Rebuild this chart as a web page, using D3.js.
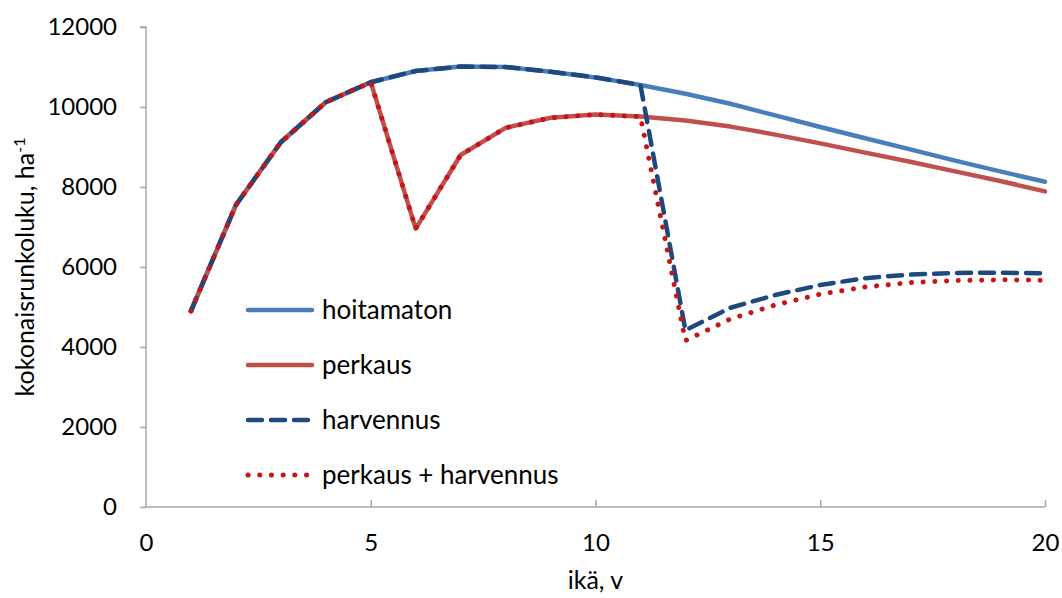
<!DOCTYPE html>
<html>
<head>
<meta charset="utf-8">
<script src="https://cdn.jsdelivr.net/npm/d3@7"></script>
<style>
  body { margin: 0; background: #fff; }
  svg { display: block; }
  text { font-family: Lato, "Open Sans", sans-serif; fill: #000; }
</style>
</head>
<body>
<svg id="chart" width="1062" height="598"></svg>
<script>
const ages = [1,2,3,4,5,6,7,8,9,10,11,12,13,14,15,16,17,18,19,20];
const hoitamaton = [4900,7550,9120,10120,10620,10900,11010,11000,10880,10740,10550,10330,10080,9790,9500,9220,8940,8660,8390,8130];
const perkaus = [4900,7550,9120,10120,10620,6960,8800,9480,9730,9810,9760,9660,9510,9310,9090,8860,8630,8390,8150,7890];
const harvennus = [4900,7550,9120,10120,10620,10900,11010,11000,10880,10740,10550,4420,4980,5300,5550,5720,5810,5850,5860,5840];
const perkausHarvennus = [4900,7550,9120,10120,10620,6960,8800,9480,9730,9810,9760,4160,4700,5050,5320,5500,5610,5660,5680,5670];
const seriesNames = ["hoitamaton","perkaus","harvennus","perkaus + harvennus"];
const xTicks = [0,5,10,15,20];
const yTicks = [0,2000,4000,6000,8000,10000,12000];

const svg = d3.select("#chart");
const x = d3.scaleLinear().domain([0,20]).range([146,1045]);
const y = d3.scaleLinear().domain([0,12000]).range([507,27]);
const axisColor = "#a6a6a6";

// y axis
const yAxis = svg.append("g").attr("transform", `translate(${x(0)},0)`)
  .call(d3.axisLeft(y).tickValues(yTicks).tickSize(6).tickPadding(23).tickFormat(d3.format("d")));
yAxis.select(".domain").attr("stroke", axisColor).attr("stroke-width", 1.5).attr("d", `M-6,${y(12000)}H0V${y(0)}`);
yAxis.selectAll(".tick line").attr("stroke", axisColor).attr("stroke-width", 1.5);
yAxis.selectAll(".tick text").attr("font-size", 24).attr("font-family", "Lato, sans-serif").attr("fill", "#000");

// x axis
const xAxis = svg.append("g").attr("transform", `translate(0,${y(0)})`)
  .call(d3.axisBottom(x).tickValues(xTicks).tickSize(-7).tickPadding(27));
xAxis.select(".domain").attr("stroke", axisColor).attr("stroke-width", 1.5).attr("d", `M${x(0)},0H${x(20)}`);
xAxis.selectAll(".tick line").attr("stroke", axisColor).attr("stroke-width", 1.5)
  .filter(d => d === 0).remove();
xAxis.selectAll(".tick text").attr("font-size", 24).attr("font-family", "Lato, sans-serif").attr("fill", "#000");

// axis titles
svg.append("text").attr("x", (x(0)+x(20))/2).attr("y", 589).attr("text-anchor", "middle")
  .attr("font-size", 25).text("ikä, v");
const yt = svg.append("text").attr("transform", `translate(34,${(y(0)+y(12000))/2}) rotate(-90)`)
  .attr("text-anchor", "middle").attr("font-size", 25);
yt.append("tspan").text("kokonaisrunkoluku, ha");
yt.append("tspan").attr("dy", -9).attr("font-size", 16).text("-1");

// lines
const styles = [
  {data: hoitamaton, color: "#4a7ebb", dash: null, w: 4.5},
  {data: perkaus, color: "#c0504d", dash: null, w: 4.5},
  {data: harvennus, color: "#1f497d", dash: "14,9", w: 4.5},
  {data: perkausHarvennus, color: "#c81414", dash: "0.1,11.6", w: 5}
];
const line = d3.line().x((d,i) => x(ages[i])).y(d => y(d));
styles.forEach(s => {
  svg.append("path").datum(s.data)
    .attr("d", line)
    .attr("fill", "none")
    .attr("stroke", s.color)
    .attr("stroke-width", s.w)
    .attr("stroke-linecap", "round")
    .attr("stroke-linejoin", "round")
    .attr("stroke-dasharray", s.dash);
});

// legend
const legend = svg.append("g");
const legY = [310, 365, 420, 475];
styles.forEach((s, i) => {
  legend.append("line").attr("x1", 248).attr("x2", 312).attr("y1", legY[i]).attr("y2", legY[i])
    .attr("stroke", s.color).attr("stroke-width", s.w).attr("stroke-linecap", "round")
    .attr("stroke-dasharray", s.dash);
  legend.append("text").attr("x", 322).attr("y", legY[i]).attr("dy", "0.35em")
    .attr("font-size", 26).text(seriesNames[i]);
});
</script>
</body>
</html>
